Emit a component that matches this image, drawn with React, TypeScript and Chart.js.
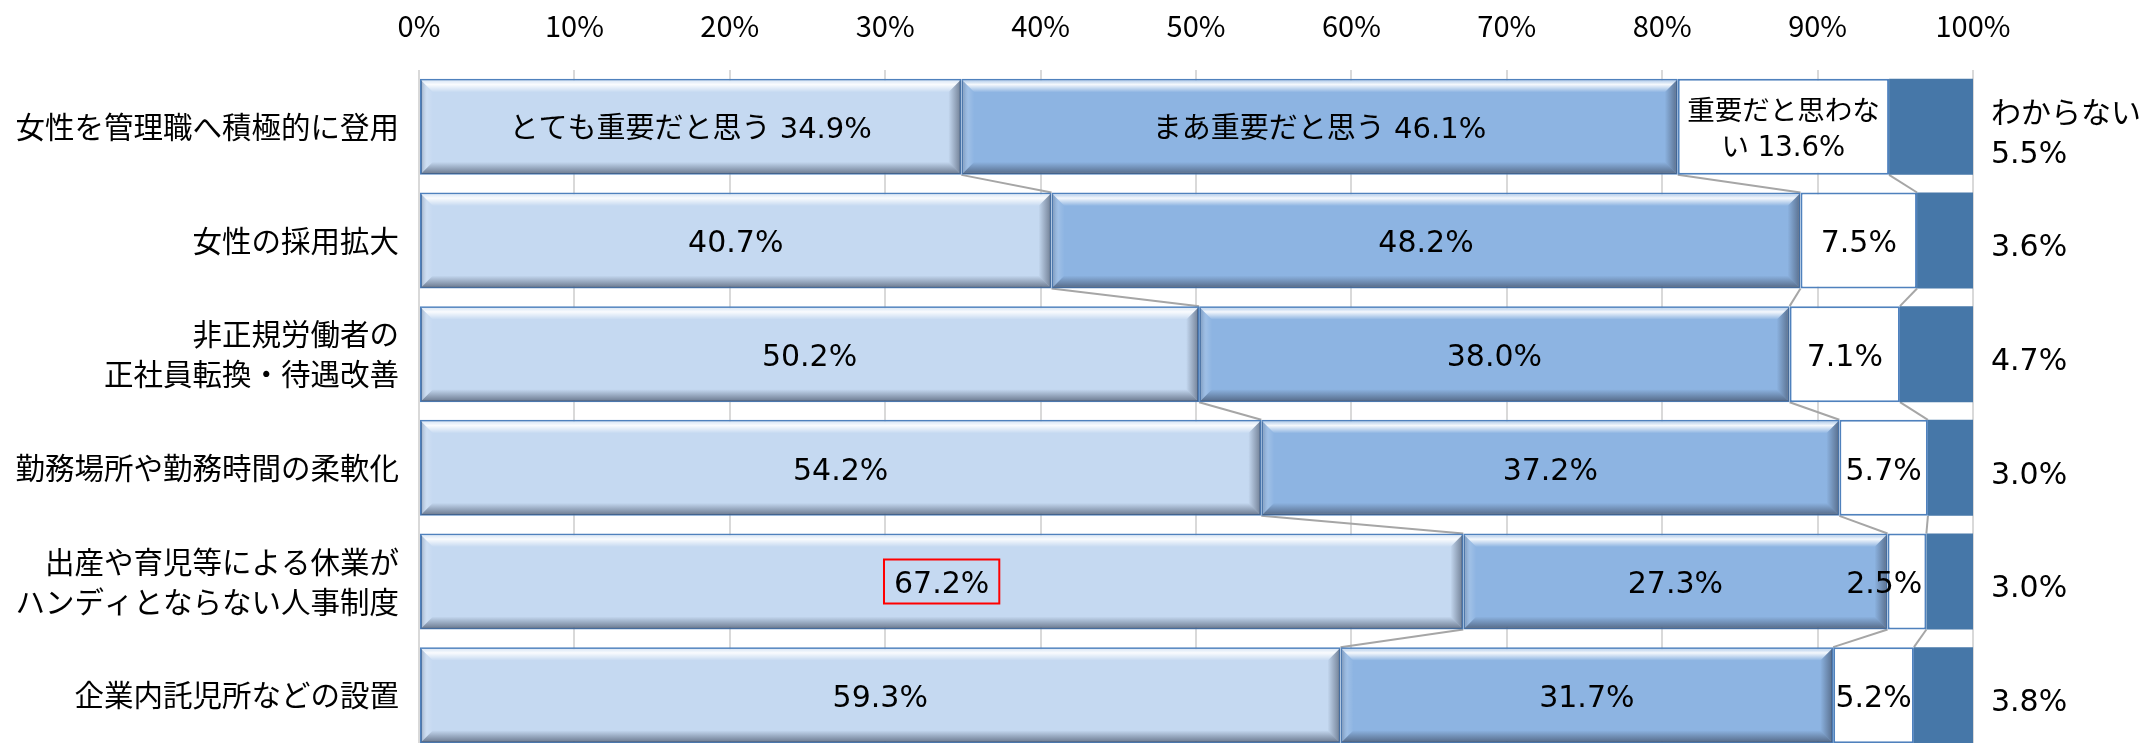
import React, { useEffect, useRef } from "react";
import { Chart, registerables } from "chart.js";

Chart.register(...registerables);

const categories: string[][] = [
  ["女性を管理職へ積極的に登用"],
  ["女性の採用拡大"],
  ["非正規労働者の", "正社員転換・待遇改善"],
  ["勤務場所や勤務時間の柔軟化"],
  ["出産や育児等による休業が", "ハンディとならない人事制度"],
  ["企業内託児所などの設置"],
];
const seriesNames = ["とても重要だと思う", "まあ重要だと思う", "重要だと思わない", "わからない"];
const veryImportant = [34.9, 40.7, 50.2, 54.2, 67.2, 59.3];
const somewhatImportant = [46.1, 48.2, 38.0, 37.2, 27.3, 31.7];
const notImportant = [13.6, 7.5, 7.1, 5.7, 2.5, 5.2];
const dontKnow = [5.5, 3.6, 4.7, 3.0, 3.0, 3.8];
const xTickValues = [0, 10, 20, 30, 40, 50, 60, 70, 80, 90, 100];
const highlightedRow = 4;

const CJK_FAMILY = '"Noto Sans CJK JP", "Noto Sans", sans-serif';
const LABEL_FAMILY = '"DejaVu Sans", "Noto Sans CJK JP", sans-serif';
const COLORS = ["#C5D9F1", "#8DB4E2", "#FFFFFF", "#4677A8"];

function fmt(v: number) {
  return v.toFixed(1) + "%";
}

function labelLines(ds: number, row: number, value: number): string[] {
  if (row === 0) {
    if (ds === 0 || ds === 1) return [seriesNames[ds] + " " + fmt(value)];
    if (ds === 2) return ["重要だと思わな", "い " + fmt(value)];
    return [seriesNames[3], fmt(value)];
  }
  return [fmt(value)];
}

const seriesLinesPlugin = {
  id: "seriesLines",
  beforeDatasetsDraw(chart: any) {
    const ctx = chart.ctx;
    const xs = chart.scales.x;
    const datasets = chart.data.datasets;
    const n = chart.data.labels.length;
    ctx.save();
    ctx.strokeStyle = "#A6A6A6";
    ctx.lineWidth = 2;
    for (let i = 0; i < n - 1; i++) {
      const a = chart.getDatasetMeta(0).data[i];
      const b = chart.getDatasetMeta(0).data[i + 1];
      const aBottom = a.y + a.height / 2;
      const bTop = b.y - b.height / 2;
      let cumA = 0;
      let cumB = 0;
      for (let s = 0; s < 3; s++) {
        cumA += datasets[s].data[i];
        cumB += datasets[s].data[i + 1];
        ctx.beginPath();
        ctx.moveTo(xs.getPixelForValue(cumA), aBottom);
        ctx.lineTo(xs.getPixelForValue(cumB), bTop);
        ctx.stroke();
      }
    }
    ctx.restore();
  },
};

function bevel(ctx: CanvasRenderingContext2D, L: number, T: number, R: number, B: number) {
  const b = 12;
  let g = ctx.createLinearGradient(0, T, 0, T + b);
  g.addColorStop(0, "rgba(255,255,255,0.35)");
  g.addColorStop(0.35, "rgba(255,255,255,0.9)");
  g.addColorStop(1, "rgba(255,255,255,0)");
  ctx.fillStyle = g;
  ctx.beginPath();
  ctx.moveTo(L, T);
  ctx.lineTo(R, T);
  ctx.lineTo(R - b, T + b);
  ctx.lineTo(L + b, T + b);
  ctx.closePath();
  ctx.fill();
  g = ctx.createLinearGradient(0, B - b, 0, B);
  g.addColorStop(0, "rgba(50,60,80,0)");
  g.addColorStop(1, "rgba(50,60,80,0.6)");
  ctx.fillStyle = g;
  ctx.beginPath();
  ctx.moveTo(L, B);
  ctx.lineTo(R, B);
  ctx.lineTo(R - b, B - b);
  ctx.lineTo(L + b, B - b);
  ctx.closePath();
  ctx.fill();
  g = ctx.createLinearGradient(R - b, 0, R, 0);
  g.addColorStop(0, "rgba(50,60,80,0)");
  g.addColorStop(1, "rgba(50,60,80,0.55)");
  ctx.fillStyle = g;
  ctx.beginPath();
  ctx.moveTo(R, T);
  ctx.lineTo(R, B);
  ctx.lineTo(R - b, B - b);
  ctx.lineTo(R - b, T + b);
  ctx.closePath();
  ctx.fill();
  g = ctx.createLinearGradient(L, 0, L + b, 0);
  g.addColorStop(0, "rgba(70,85,110,0.35)");
  g.addColorStop(0.5, "rgba(255,255,255,0.15)");
  g.addColorStop(1, "rgba(255,255,255,0)");
  ctx.fillStyle = g;
  ctx.beginPath();
  ctx.moveTo(L, T);
  ctx.lineTo(L, B);
  ctx.lineTo(L + b, B - b);
  ctx.lineTo(L + b, T + b);
  ctx.closePath();
  ctx.fill();
}

const bevelAndLabelsPlugin = {
  id: "bevelAndLabels",
  afterDatasetsDraw(chart: any) {
    const ctx: CanvasRenderingContext2D = chart.ctx;
    const area = chart.chartArea;
    ctx.save();
    ctx.beginPath();
    ctx.rect(area.left, area.top, area.right - area.left, area.bottom - area.top);
    ctx.clip();
    for (let ds = 0; ds < 2; ds++) {
      chart.getDatasetMeta(ds).data.forEach((el: any) => {
        const L = Math.min(el.base, el.x) + 1;
        const R = Math.max(el.base, el.x) - 1;
        const T = el.y - el.height / 2 + 1.5;
        const B = el.y + el.height / 2 - 1;
        bevel(ctx, L, T, R, B);
      });
    }
    ctx.restore();

    ctx.save();
    ctx.fillStyle = "#000";
    ctx.textBaseline = "middle";
    for (let ds = 0; ds < 4; ds++) {
      const meta = chart.getDatasetMeta(ds);
      meta.data.forEach((el: any, row: number) => {
        const value = chart.data.datasets[ds].data[row];
        const lines = labelLines(ds, row, value);
        const L = Math.min(el.base, el.x);
        const R = Math.min(Math.max(el.base, el.x), area.right);
        const cy = el.y;
        let size = 30;
        if (row === 0 && ds < 2) size = 29;
        if (row === 0 && ds === 2) size = 27.5;
        ctx.font = `${size}px ${LABEL_FAMILY}`;
        if (ds === 3) {
          ctx.textAlign = "left";
          const lh = 40;
          const y0 = cy + 8 - ((lines.length - 1) * lh) / 2;
          lines.forEach((t, k) => ctx.fillText(t, area.right + 18, y0 + k * lh));
          return;
        }
        const lh = 36;
        const y0 = cy + 4 - ((lines.length - 1) * lh) / 2;
        const w = Math.max(...lines.map((t) => ctx.measureText(t).width));
        let x = (L + R) / 2;
        ctx.textAlign = "center";
        if (lines.length === 1 && w > R - L - 2) {
          ctx.textAlign = "right";
          x = R - 4;
        }
        lines.forEach((t, k) => ctx.fillText(t, x, y0 + k * lh));
        if (ds === 0 && row === highlightedRow) {
          ctx.save();
          ctx.strokeStyle = "#FF0000";
          ctx.lineWidth = 2;
          ctx.strokeRect(x - w / 2 - 10, cy - 22, w + 20, 44);
          ctx.restore();
        }
      });
    }
    ctx.restore();
  },
};

export default function App() {
  const canvasRef = useRef<HTMLCanvasElement | null>(null);

  useEffect(() => {
    const canvas = canvasRef.current;
    if (!canvas) return;
    const chart = new Chart(canvas, {
      type: "bar",
      data: {
        labels: categories,
        datasets: [veryImportant, somewhatImportant, notImportant, dontKnow].map((d, i) => ({
          label: seriesNames[i],
          data: d,
          backgroundColor: COLORS[i],
          borderColor: i === 3 ? COLORS[3] : "#4F81BD",
          borderWidth: i === 3 ? 0 : 2,
          borderSkipped: false,
          barPercentage: 0.845,
          categoryPercentage: 1,
        })),
      },
      options: {
        indexAxis: "y",
        responsive: false,
        animation: false,
        devicePixelRatio: 1,
        layout: { padding: { left: 0, right: 183, top: 0, bottom: 8 } },
        plugins: { legend: { display: false }, tooltip: { enabled: false } },
        scales: {
          x: {
            type: "linear",
            position: "top",
            stacked: true,
            min: 0,
            max: 100,
            afterBuildTicks: (s: any) => {
              s.ticks = xTickValues.map((v) => ({ value: v }));
            },
            ticks: {
              callback: (v: any) => v + "%",
              font: { family: CJK_FAMILY, size: 29 },
              color: "#000",
              padding: 27,
              maxRotation: 0,
              autoSkip: false,
            },
            grid: { color: "#D9D9D9", lineWidth: 2, drawTicks: false },
            border: { display: false },
            afterFit: (s: any) => {
              s.height = 70;
              s.paddingLeft = 0;
              s.paddingRight = 0;
            },
          },
          y: {
            stacked: true,
            grid: { display: false, drawTicks: false },
            border: { display: false },
            ticks: {
              font: { family: CJK_FAMILY, size: 29.5, lineHeight: 1.36 },
              color: "#000",
              padding: 20,
              autoSkip: false,
            },
            afterFit: (s: any) => {
              s.width = 419;
              s.paddingTop = 0;
              s.paddingBottom = 0;
            },
          },
        },
      } as any,
      plugins: [seriesLinesPlugin, bevelAndLabelsPlugin],
    });
    return () => chart.destroy();
  }, []);

  return (
    <div
      style={{
        position: "absolute",
        left: 0,
        top: 0,
        width: 2156,
        height: 743,
        overflow: "hidden",
        background: "#fff",
      }}
    >
      <canvas ref={canvasRef} width={2156} height={760} style={{ display: "block", width: 2156, height: 760 }} />
    </div>
  );
}
